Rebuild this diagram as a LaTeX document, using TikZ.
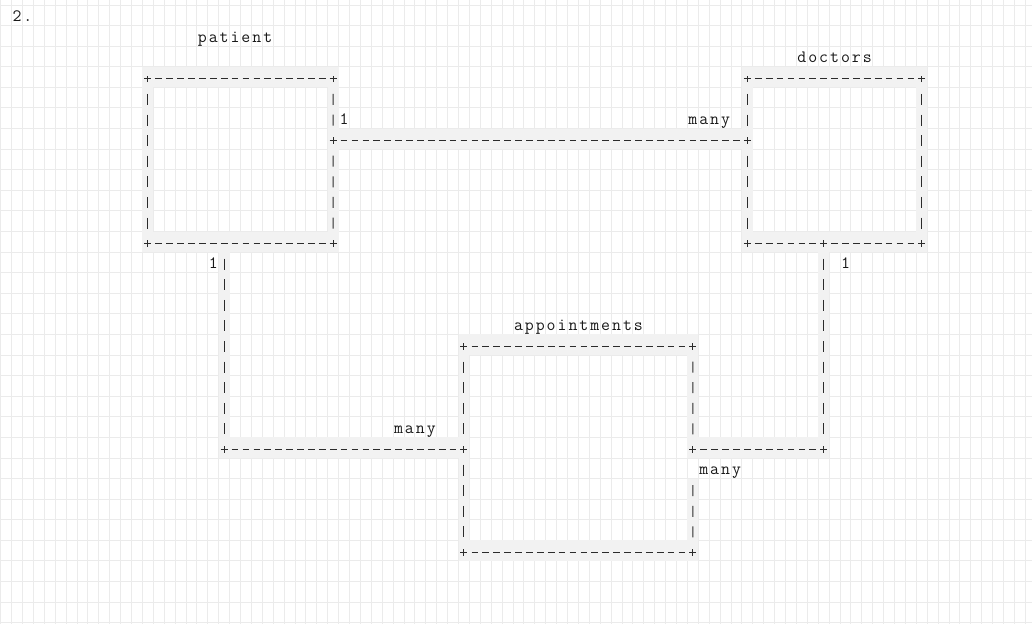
\documentclass[tikz,border=0pt]{standalone}
\usepackage{fontspec}
\newlength\cellw
\setlength\cellw{8.175pt}
\newlength\cellh
\setlength\cellh{15.4425pt}
% set every letter in a cell of its own
\makeatletter
\newcommand\spread[1]{\@tfor\spreadch:=#1\do{\makebox[\cellw]{\spreadch}}}
\makeatother
\definecolor{gridgray}{HTML}{EBEBEB}
\definecolor{hiliteg}{HTML}{F2F2F2}
\definecolor{inkgray}{HTML}{2B2B2B}
\tikzset{
  hdash/.style={draw=inkgray, line width=0.75pt, dash pattern=on 5.03pt off 3.145pt,
    shorten <=5.665pt, shorten >=5.665pt},
  vdash/.style={draw=inkgray, line width=0.75pt, dash pattern=on 8.25pt off 7.1925pt,
    shorten <=11.32pt, shorten >=11.32pt},
  junction/.pic={\draw[inkgray, line width=0.75pt] (-2.63pt,0) -- (2.63pt,0) (0,-2.5pt) -- (0,2.5pt);},
  entity/.style={rectangle, inner sep=0pt, outer sep=0pt},
  asciitext/.style={anchor=base west, inner sep=0pt, outer sep=0pt, text=black!90,
    font=\ttfamily\fontsize{13}{15}\selectfont},
}
\begin{document}
\begin{tikzpicture}[x=8.175pt, y=-15.4425pt]
  % Page and squared paper
  \useasboundingbox (-0.564,-0.743) rectangle (94.11,29.563);
  \fill[white] (-0.564,-0.743) rectangle (94.11,29.563);
  \begin{scope}[draw=gridgray, line width=0.75pt]
    \foreach \c in {0,...,94} \draw (\c-0.5,-0.743) -- (\c-0.5,29.563);
    \foreach \r in {0,...,30} \draw (-0.564,\r-0.5) -- (94.11,\r-0.5);
  \end{scope}
  % Shaded cells under the strokes
  \begin{scope}[fill=hiliteg]
    % patient
    \fill (12.5,2.5) rectangle (30.5,3.5);
    \fill (12.5,10.5) rectangle (30.5,11.5);
    \fill (12.5,2.5) rectangle (13.5,11.5);
    \fill (29.5,2.5) rectangle (30.5,11.5);
    % doctors
    \fill (67.5,2.5) rectangle (84.5,3.5);
    \fill (67.5,10.5) rectangle (84.5,11.5);
    \fill (67.5,2.5) rectangle (68.5,11.5);
    \fill (83.5,2.5) rectangle (84.5,11.5);
    % appointments
    \fill (41.5,15.5) rectangle (63.5,16.5);
    \fill (41.5,25.5) rectangle (63.5,26.5);
    \fill (41.5,15.5) rectangle (42.5,26.5);
    \fill (62.5,15.5) rectangle (63.5,21.5);
    \fill (62.5,22.5) rectangle (63.5,26.5);
    % connectors
    \fill (30.5,5.5) rectangle (67.5,6.5);
    \fill (19.5,11.5) rectangle (20.5,21.5);
    \fill (20.5,20.5) rectangle (41.5,21.5);
    \fill (74.5,11.5) rectangle (75.5,21.5);
    \fill (63.5,20.5) rectangle (74.5,21.5);
  \end{scope}
  % Boxes and connectors, drawn as dashes, bars and plus signs
  \begin{scope}[yshift=-1.35pt]
    \node[entity, minimum width=17\cellw, minimum height=8\cellh] (patient) at (21.5,7) {};
    \node[entity, minimum width=16\cellw, minimum height=8\cellh] (doctors) at (76,7) {};
    \node[entity, minimum width=21\cellw, minimum height=10\cellh] (appointments) at (52.5,21) {};
    \coordinate (patient-doc) at (30,6);
    \coordinate (doc-patient) at (68,6);
    \coordinate (patient-out) at (20,11);
    \coordinate (patient-turn) at (20,21);
    \coordinate (appt-west) at (42,21);
    \coordinate (doc-out) at (75,11);
    \coordinate (doc-turn) at (75,21);
    \coordinate (appt-east) at (63,21);
    \coordinate (appt-gap) at (63,22);
    % patient
    \draw[hdash] (patient.north west) -- (patient.north east);
    \draw[hdash] (patient.south west) -- (patient.south east);
    \draw[vdash] (patient.north west) -- (patient.south west);
    \draw[vdash] (patient.north east) -- (patient-doc);
    \draw[vdash] (patient-doc) -- (patient.south east);
    % doctors
    \draw[hdash] (doctors.north west) -- (doctors.north east);
    \draw[hdash] (doctors.south west) -- (doc-out);
    \draw[hdash] (doc-out) -- (doctors.south east);
    \draw[vdash] (doctors.north west) -- (doc-patient);
    \draw[vdash] (doc-patient) -- (doctors.south west);
    \draw[vdash] (doctors.north east) -- (doctors.south east);
    % appointments
    \draw[hdash] (appointments.north west) -- (appointments.north east);
    \draw[hdash] (appointments.south west) -- (appointments.south east);
    \draw[vdash] (appointments.north west) -- (appt-west);
    \draw[vdash] (appt-west) -- (appointments.south west);
    \draw[vdash] (appointments.north east) -- (appt-east);
    \draw[vdash] (appt-gap) -- (appointments.south east);
    % connectors
    \draw[hdash] (patient-doc) -- (doc-patient);
    \draw[vdash] (patient-out) -- (patient-turn);
    \draw[hdash] (patient-turn) -- (appt-west);
    \draw[vdash] (doc-out) -- (doc-turn);
    \draw[hdash] (doc-turn) -- (appt-east);
    % plus signs at corners and joints
    \foreach \p in {patient.north west, patient.north east, patient.south west, patient.south east,
      doctors.north west, doctors.north east, doctors.south west, doctors.south east,
      appointments.north west, appointments.north east, appointments.south west, appointments.south east,
      patient-doc, doc-patient, doc-out, patient-turn, doc-turn, appt-west, appt-east}
      \pic at (\p) {junction};
  \end{scope}
  % Texts
  \node[asciitext] (sheet-no) at (0.5,0.306) {\spread{2.}};
  \node[asciitext] (patient-name) at (17.5,1.306) {\spread{patient}};
  \node[asciitext] (doctors-name) at (72.5,2.306) {\spread{doctors}};
  \node[asciitext] (appointments-name) at (46.5,15.306) {\spread{appointments}};
  \node[asciitext] (pd-one) at (30.5,5.306) {\spread{1}};
  \node[asciitext] (pd-many) at (62.5,5.306) {\spread{many}};
  \node[asciitext] (pa-one) at (18.5,12.306) {\spread{1}};
  \node[asciitext] (pa-many) at (35.5,20.306) {\spread{many}};
  \node[asciitext] (da-one) at (76.5,12.306) {\spread{1}};
  \node[asciitext] (da-many) at (63.5,22.306) {\spread{many}};
\end{tikzpicture}
\end{document}
